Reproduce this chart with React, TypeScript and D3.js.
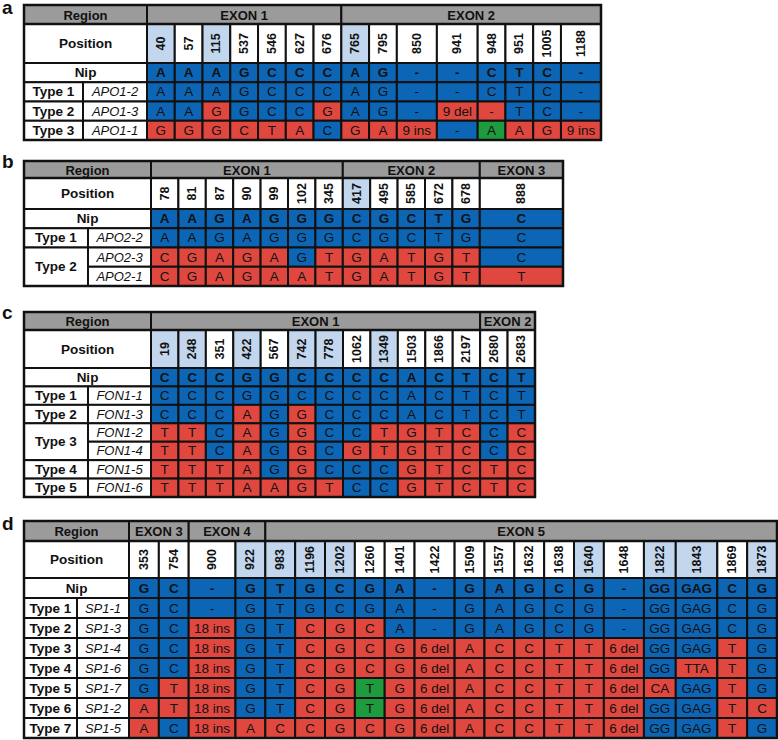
import React from "react";
import * as d3 from "d3";

const BLUE = "#0d66b5";
const RED = "#e0483f";
const GREEN = "#1e9b3d";
const LIGHT = "#c2d6ee";
const GRAY = "#9b9b9b";
const INK = "#111";
const FONT = "'Liberation Sans', Arial, Helvetica, sans-serif";

// ---- a: APO1
const aExons = ["EXON 1", "EXON 2"];
const aExonSizes = [7, 8];
const aPositions = [40, 57, 115, 537, 546, 627, 676, 765, 795, 850, 941, 948, 951, 1005, 1188];
const aMarked = [40, 115, 765];
const aNip = ["A", "A", "A", "G", "C", "C", "C", "A", "G", "-", "-", "C", "T", "C", "-"];
const aTypes = ["Type 1", "Type 2", "Type 3"];
const aTypeSizes = [1, 1, 1];
const aSamples = ["APO1-2", "APO1-3", "APO1-1"];
const aValues = [
  ["A", "A", "A", "G", "C", "C", "C", "A", "G", "-", "-", "C", "T", "C", "-"],
  ["A", "A", "G", "G", "C", "C", "G", "A", "G", "-", "9 del", "-", "T", "C", "-"],
  ["G", "G", "G", "C", "T", "A", "C", "G", "A", "9 ins", "-", "A", "A", "G", "9 ins"],
];
const aGreen: [string, number][] = [["APO1-1", 948]];

// ---- b: APO2
const bExons = ["EXON 1", "EXON 2", "EXON 3"];
const bExonSizes = [7, 5, 1];
const bPositions = [78, 81, 87, 90, 99, 102, 345, 417, 495, 585, 672, 678, 888];
const bMarked = [417];
const bNip = ["A", "A", "G", "A", "G", "G", "G", "C", "G", "C", "T", "G", "C"];
const bTypes = ["Type 1", "Type 2"];
const bTypeSizes = [1, 2];
const bSamples = ["APO2-2", "APO2-3", "APO2-1"];
const bValues = [
  ["A", "A", "G", "A", "G", "G", "G", "C", "G", "C", "T", "G", "C"],
  ["C", "G", "A", "G", "A", "G", "T", "G", "A", "T", "G", "T", "C"],
  ["C", "G", "A", "G", "A", "A", "T", "G", "A", "T", "G", "T", "T"],
];
const bGreen: [string, number][] = [];

// ---- c: FON1
const cExons = ["EXON 1", "EXON 2"];
const cExonSizes = [12, 2];
const cPositions = [19, 248, 351, 422, 567, 742, 778, 1062, 1349, 1503, 1866, 2197, 2680, 2683];
const cMarked = [19, 248, 422, 742, 778, 1349];
const cNip = ["C", "C", "C", "G", "G", "C", "C", "C", "C", "A", "C", "T", "C", "T"];
const cTypes = ["Type 1", "Type 2", "Type 3", "Type 4", "Type 5"];
const cTypeSizes = [1, 1, 2, 1, 1];
const cSamples = ["FON1-1", "FON1-3", "FON1-2", "FON1-4", "FON1-5", "FON1-6"];
const cValues = [
  ["C", "C", "C", "G", "G", "C", "C", "C", "C", "A", "C", "T", "C", "T"],
  ["C", "C", "C", "A", "G", "G", "C", "C", "C", "A", "C", "T", "C", "T"],
  ["T", "T", "C", "A", "G", "G", "C", "C", "T", "G", "T", "C", "C", "C"],
  ["T", "T", "C", "A", "G", "G", "C", "G", "T", "G", "T", "C", "C", "C"],
  ["T", "T", "T", "A", "G", "G", "C", "C", "C", "G", "T", "C", "T", "C"],
  ["T", "T", "T", "A", "A", "G", "T", "C", "C", "G", "T", "C", "T", "C"],
];
const cGreen: [string, number][] = [];

// ---- d: SP1
const dExons = ["EXON 3", "EXON 4", "EXON 5"];
const dExonSizes = [2, 2, 16];
const dPositions = [353, 754, 900, 922, 983, 1196, 1202, 1260, 1401, 1422, 1509, 1557, 1632, 1638, 1640, 1648, 1822, 1843, 1869, 1873];
const dMarked = [922, 983, 1196, 1202, 1640, 1822, 1843, 1873];
const dNip = ["G", "C", "-", "G", "T", "G", "C", "G", "A", "-", "G", "A", "G", "C", "G", "-", "GG", "GAG", "C", "G"];
const dTypes = ["Type 1", "Type 2", "Type 3", "Type 4", "Type 5", "Type 6", "Type 7"];
const dTypeSizes = [1, 1, 1, 1, 1, 1, 1];
const dSamples = ["SP1-1", "SP1-3", "SP1-4", "SP1-6", "SP1-7", "SP1-2", "SP1-5"];
const dValues = [
  ["G", "C", "-", "G", "T", "G", "C", "G", "A", "-", "G", "A", "G", "C", "G", "-", "GG", "GAG", "C", "G"],
  ["G", "C", "18 ins", "G", "T", "C", "G", "C", "A", "-", "G", "A", "G", "C", "G", "-", "GG", "GAG", "C", "G"],
  ["G", "C", "18 ins", "G", "T", "C", "G", "C", "G", "6 del", "A", "C", "C", "T", "T", "6 del", "GG", "GAG", "T", "G"],
  ["G", "C", "18 ins", "G", "T", "C", "G", "C", "G", "6 del", "A", "C", "C", "T", "T", "6 del", "GG", "TTA", "T", "G"],
  ["G", "T", "18 ins", "G", "T", "C", "G", "T", "G", "6 del", "A", "C", "C", "T", "T", "6 del", "CA", "GAG", "T", "G"],
  ["A", "T", "18 ins", "G", "T", "C", "G", "T", "G", "6 del", "A", "C", "C", "T", "T", "6 del", "GG", "GAG", "T", "C"],
  ["A", "C", "18 ins", "A", "C", "C", "G", "C", "G", "6 del", "A", "C", "C", "T", "T", "6 del", "GG", "GAG", "T", "G"],
];
const dGreen: [string, number][] = [["SP1-7", 1260], ["SP1-2", 1260]];

type Layout = {
  letter: string; top: number; left: number; labelW: number; typeW: number; width: number;
  regionH: number; posH: number; rowH: number; minCol: number; stretchLast: boolean; letterY: number;
};

const layouts: Record<string, Layout> = {
  a: { letter: "a", top: 5, left: 24, labelW: 123, typeW: 59, width: 577, regionH: 19, posH: 39, rowH: 19.25, minCol: 27.4, stretchLast: false, letterY: 14 },
  b: { letter: "b", top: 161, left: 24, labelW: 127, typeW: 64, width: 539, regionH: 17, posH: 31, rowH: 19.25, minCol: 27.4, stretchLast: true, letterY: 168 },
  c: { letter: "c", top: 312, left: 24, labelW: 127, typeW: 64, width: 511, regionH: 18, posH: 38, rowH: 18.43, minCol: 27.4, stretchLast: false, letterY: 319 },
  d: { letter: "d", top: 521, left: 24, labelW: 105, typeW: 53, width: 753, regionH: 20, posH: 37, rowH: 20, minCol: 30, stretchLast: false, letterY: 530 },
};

const panels = [
  { key: "a", exons: aExons, exonSizes: aExonSizes, positions: aPositions, marked: aMarked, nip: aNip, types: aTypes, typeSizes: aTypeSizes, samples: aSamples, values: aValues, green: aGreen },
  { key: "b", exons: bExons, exonSizes: bExonSizes, positions: bPositions, marked: bMarked, nip: bNip, types: bTypes, typeSizes: bTypeSizes, samples: bSamples, values: bValues, green: bGreen },
  { key: "c", exons: cExons, exonSizes: cExonSizes, positions: cPositions, marked: cMarked, nip: cNip, types: cTypes, typeSizes: cTypeSizes, samples: cSamples, values: cValues, green: cGreen },
  { key: "d", exons: dExons, exonSizes: dExonSizes, positions: dPositions, marked: dMarked, nip: dNip, types: dTypes, typeSizes: dTypeSizes, samples: dSamples, values: dValues, green: dGreen },
];

const CELL_SIZE = 13.5;
let ctx: CanvasRenderingContext2D | null = null;
function measure(t: string, bold: boolean) {
  if (!ctx) ctx = document.createElement("canvas").getContext("2d");
  if (!ctx) return t.length * 8;
  ctx.font = `${bold ? "bold " : ""}${CELL_SIZE}px 'Liberation Sans', Arial`;
  return ctx.measureText(t).width;
}

function Panel({ p }: { p: (typeof panels)[number] }) {
  const L = layouts[p.key];
  const dataW = L.width - L.labelW;
  // column width follows its longest entry
  const raw = p.positions.map((_, i) => {
    const tw = Math.max(measure(p.nip[i], true), ...p.values.map((r) => measure(r[i], false)));
    return Math.max(L.minCol, tw + 11);
  });
  const sum = d3.sum(raw);
  let widths = raw.map((w) => (w * dataW) / sum);
  if (L.stretchLast) {
    widths = raw.slice();
    widths[widths.length - 1] += dataW - sum;
  }
  const offs = [0, ...Array.from(d3.cumsum(widths))];
  const x0 = L.left + L.labelW;
  const x = d3.scaleOrdinal<number, number>().domain(p.positions).range(offs.slice(0, -1).map((o) => x0 + o));
  const w = d3.scaleOrdinal<number, number>().domain(p.positions).range(widths);

  const rowKeys = ["Nip", ...p.samples];
  const rowsTop = L.top + L.regionH + L.posH;
  const y = d3.scaleBand<string>().domain(rowKeys).range([rowsTop, rowsTop + rowKeys.length * L.rowH]);
  const bottom = rowsTop + rowKeys.length * L.rowH;
  const right = L.left + L.width;

  const exonStart = [0, ...Array.from(d3.cumsum(p.exonSizes))];
  const typeStart = [0, ...Array.from(d3.cumsum(p.typeSizes))];
  const isGreen = (s: string, pos: number) => p.green.some(([gs, gp]) => gs === s && gp === pos);

  const cell = (k: string, x1: number, y1: number, cw: number, ch: number, fill: string) => (
    <rect key={k} x={x1} y={y1} width={cw} height={ch} fill={fill} stroke={INK} strokeWidth={2} />
  );
  const label = (k: string, cx: number, cy: number, t: string, size: number, weight = "bold", style = "normal") => (
    <text key={k} x={cx} y={cy} textAnchor="middle" dominantBaseline="central" fontSize={size}
      fontWeight={weight} fontStyle={style} fill={INK}>{t}</text>
  );

  return (
    <g fontFamily={FONT}>
      <text x={2} y={L.letterY} fontSize={19} fontWeight="bold" fill={INK}>{L.letter}</text>
      {/* region row */}
      {cell("rg", L.left, L.top, L.labelW, L.regionH, GRAY)}
      {label("rgt", L.left + L.labelW / 2, L.top + L.regionH / 2 + 0.5, "Region", 13)}
      {p.exons.map((ex, i) => {
        const a = x(p.positions[exonStart[i]]);
        const lastPos = p.positions[exonStart[i + 1] - 1];
        const b = x(lastPos) + w(lastPos);
        return (
          <g key={ex}>
            {cell("e", a, L.top, b - a, L.regionH, GRAY)}
            {label("et", (a + b) / 2, L.top + L.regionH / 2 + 0.5, ex, 13)}
          </g>
        );
      })}
      {/* position row */}
      {cell("ps", L.left, L.top + L.regionH, L.labelW, L.posH, "#fff")}
      {label("pst", L.left + L.labelW / 2, L.top + L.regionH + L.posH / 2, "Position", 13.5)}
      {p.positions.map((pos) => (
        <g key={"p" + pos}>
          {cell("c", x(pos), L.top + L.regionH, w(pos), L.posH, p.marked.includes(pos) ? LIGHT : "#fff")}
          <text transform={`translate(${x(pos) + w(pos) / 2},${L.top + L.regionH + L.posH / 2}) rotate(-90)`}
            textAnchor="middle" dominantBaseline="central" fontSize={12.5} fontWeight="bold" fill={INK}>{pos}</text>
        </g>
      ))}
      {/* Nip row */}
      {cell("nip", L.left, y("Nip")!, L.labelW, L.rowH, "#fff")}
      {label("nipt", L.left + L.labelW / 2, y("Nip")! + L.rowH / 2, "Nip", 13.5)}
      {p.positions.map((pos, i) => (
        <g key={"n" + pos}>
          {cell("c", x(pos), y("Nip")!, w(pos), L.rowH, BLUE)}
          {label("t", x(pos) + w(pos) / 2, y("Nip")! + L.rowH / 2, p.nip[i], CELL_SIZE)}
        </g>
      ))}
      {/* type labels */}
      {p.types.map((t, i) => {
        const y1 = y(p.samples[typeStart[i]])!;
        const h = p.typeSizes[i] * L.rowH;
        return (
          <g key={t}>
            {cell("c", L.left, y1, L.typeW, h, "#fff")}
            {label("t", L.left + L.typeW / 2, y1 + h / 2, t, 13.5)}
          </g>
        );
      })}
      {/* samples */}
      {p.samples.map((s, r) => (
        <g key={s}>
          {cell("c", L.left + L.typeW, y(s)!, L.labelW - L.typeW, L.rowH, "#fff")}
          {label("t", L.left + L.typeW + (L.labelW - L.typeW) / 2, y(s)! + L.rowH / 2, s, 13, "normal", "italic")}
          {p.positions.map((pos, i) => {
            const v = p.values[r][i];
            const fill = isGreen(s, pos) ? GREEN : v === p.nip[i] ? BLUE : RED;
            return (
              <g key={pos}>
                {cell("c", x(pos), y(s)!, w(pos), L.rowH, fill)}
                {label("t", x(pos) + w(pos) / 2, y(s)! + L.rowH / 2, v, CELL_SIZE, "normal")}
              </g>
            );
          })}
        </g>
      ))}
      <rect x={L.left} y={L.top} width={L.width} height={bottom - L.top} fill="none" stroke={INK} strokeWidth={2.5} />
      <line x1={L.left} x2={right} y1={L.top + L.regionH} y2={L.top + L.regionH} stroke={INK} strokeWidth={2.5} />
    </g>
  );
}

export default function App() {
  return (
    <svg width={778} height={740} style={{ position: "absolute", left: 0, top: 0, background: "#fff" }}>
      {panels.map((p) => (
        <Panel key={p.key} p={p} />
      ))}
    </svg>
  );
}
